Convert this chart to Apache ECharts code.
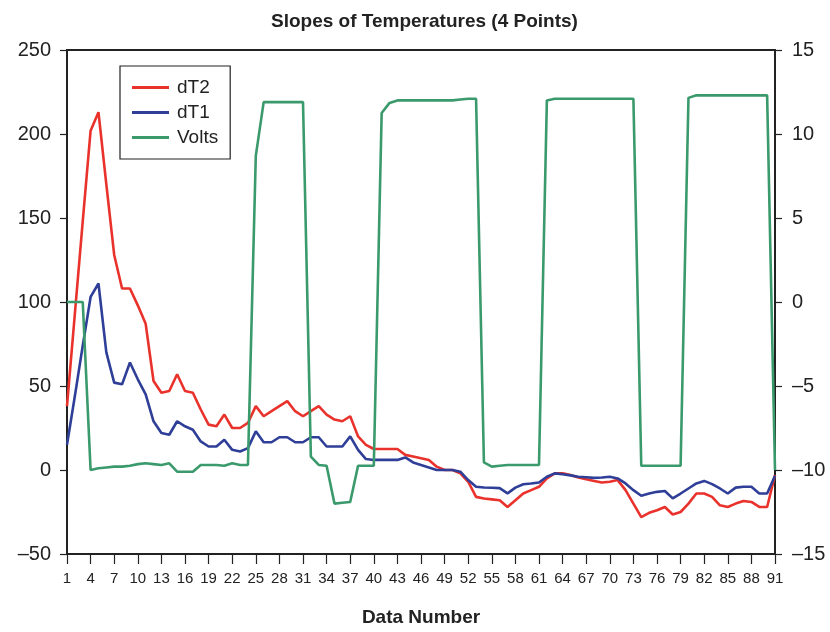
<!DOCTYPE html>
<html>
<head>
<meta charset="utf-8">
<script src="https://cdn.jsdelivr.net/npm/echarts@6/dist/echarts.min.js"></script>
<style>
html,body{margin:0;padding:0;background:#fff;}
#chart{width:830px;height:632px;}
</style>
</head>
<body>
<div id="chart"></div>
<script>
const titleText = 'Slopes of Temperatures (4 Points)';
const xTitle = 'Data Number';
const dataNumbers = Array.from({length: 91}, (_, i) => String(i + 1));

const dT2 = [38, 93, 148, 202, 213, 170, 128, 108, 108, 98,
  87, 53, 46, 47, 57, 47, 46, 36, 27, 26,
  33, 25, 25, 28, 38, 32, 35, 38, 41, 35,
  32, 35, 38, 33, 30, 29, 32, 20, 15, 12.5,
  12.5, 12.5, 12.5, 9, 8, 7, 6, 2, 0, 0,
  -2, -7, -16, -17, -17.5, -18, -22, -18, -14, -12,
  -10, -5, -2, -2, -3, -4.4, -5.5, -6.5, -7.4, -7,
  -6, -12, -20, -28, -25.5, -24, -22, -26.5, -25, -20,
  -14, -14, -16, -21, -22, -20, -18.5, -19, -22, -22,
  -3];

const dT1 = [15, 44, 74, 103, 111, 70, 52, 51, 64, 54,
  45, 29, 22, 21, 29, 26, 24, 17, 14, 14,
  18, 12, 11, 13, 23, 16.5, 16.5, 19.5, 19.5, 16.5,
  16.5, 19.5, 19.5, 14, 14, 14, 20, 12, 6.5, 6,
  6, 6, 6, 7.5, 4.5, 3, 1.5, 0, 0, 0,
  -1, -6, -10, -10.4, -10.6, -10.8, -13.9, -10.5, -8.5, -8,
  -7.4, -4, -2, -2.5, -3.2, -4, -4.3, -4.7, -4.5, -4,
  -5, -8, -12, -15.3, -14, -13, -12.5, -16.9, -14, -11,
  -8, -6.5, -8.4, -11, -14, -10.5, -10, -10, -14, -14,
  -3.4];

const volts = [0, 0, 0, -10, -9.9, -9.85, -9.8, -9.8, -9.75, -9.65,
  -9.6, -9.65, -9.7, -9.6, -10.1, -10.1, -10.1, -9.7, -9.7, -9.7,
  -9.75, -9.6, -9.7, -9.7, 8.7, 11.9, 11.9, 11.9, 11.9, 11.9,
  11.9, -9.2, -9.7, -9.75, -12, -11.95, -11.9, -9.75, -9.75, -9.75,
  11.25, 11.85, 12, 12, 12, 12, 12, 12, 12, 12,
  12.05, 12.1, 12.1, -9.55, -9.8, -9.75, -9.7, -9.7, -9.7, -9.7,
  -9.7, 12, 12.1, 12.1, 12.1, 12.1, 12.1, 12.1, 12.1, 12.1,
  12.1, 12.1, 12.1, -9.75, -9.75, -9.75, -9.75, -9.75, -9.75, 12.15,
  12.3, 12.3, 12.3, 12.3, 12.3, 12.3, 12.3, 12.3, 12.3, 12.3,
  -10];

const seriesNames = ['dT2', 'dT1', 'Volts'];
const seriesColors = ['#e8322b', '#2f3f98', '#3b9a6c'];

const dash = v => String(v).replace('-', '\u2013');
const sans = "'Liberation Sans', Arial, sans-serif";

const chart = echarts.init(document.getElementById('chart'), null, {renderer: 'canvas'});
chart.setOption({
  animation: false,
  backgroundColor: '#fff',
  title: {
    text: titleText,
    left: 266, top: 7,
    textStyle: {fontFamily: sans, fontSize: 19, fontWeight: 'bold', color: '#222'}
  },
  legend: {
    orient: 'vertical',
    left: 120, top: 66,
    data: seriesNames,
    icon: 'rect',
    itemWidth: 37, itemHeight: 3,
    itemGap: 6,
    padding: [12, 12, 12, 12],
    borderColor: '#222', borderWidth: 1.2,
    backgroundColor: '#fff',
    textStyle: {fontFamily: sans, fontSize: 19, color: '#222', padding: [0, 0, 0, 3]}
  },
  grid: {
    left: 67, right: 55, top: 50, bottom: 75,
    show: true, borderColor: '#222', borderWidth: 2
  },
  xAxis: {
    type: 'category',
    data: dataNumbers,
    boundaryGap: false,
    name: xTitle,
    nameLocation: 'middle',
    nameGap: 54,
    nameTextStyle: {fontFamily: sans, fontSize: 19, fontWeight: 'bold', color: '#222'},
    axisLine: {onZero: false, lineStyle: {color: '#222', width: 2}},
    axisTick: {interval: 2, length: 10, lineStyle: {color: '#222', width: 1.2}},
    axisLabel: {interval: 2, fontFamily: sans, fontSize: 15, color: '#222', margin: 17},
    splitLine: {show: false}
  },
  yAxis: [{
    type: 'value', min: -50, max: 250, interval: 50,
    axisLine: {show: true, lineStyle: {color: '#222', width: 2}},
    axisTick: {show: true, length: 7, lineStyle: {color: '#222', width: 1.2}},
    axisLabel: {fontFamily: sans, fontSize: 20, color: '#222', margin: 16, formatter: dash},
    splitLine: {show: false}
  }, {
    type: 'value', min: -15, max: 15, interval: 5,
    position: 'right',
    axisLine: {show: true, lineStyle: {color: '#222', width: 2}},
    axisTick: {show: true, length: 7, lineStyle: {color: '#222', width: 1.2}},
    axisLabel: {fontFamily: sans, fontSize: 20, color: '#222', margin: 17, formatter: dash},
    splitLine: {show: false}
  }],
  series: [
    {name: seriesNames[0], type: 'line', data: dT2, yAxisIndex: 0, symbol: 'none',
     color: seriesColors[0], lineStyle: {width: 2.6, color: seriesColors[0]}},
    {name: seriesNames[1], type: 'line', data: dT1, yAxisIndex: 0, symbol: 'none',
     color: seriesColors[1], lineStyle: {width: 2.6, color: seriesColors[1]}},
    {name: seriesNames[2], type: 'line', data: volts, yAxisIndex: 1, symbol: 'none',
     color: seriesColors[2], lineStyle: {width: 2.6, color: seriesColors[2]}}
  ]
});
</script>
</body>
</html>
